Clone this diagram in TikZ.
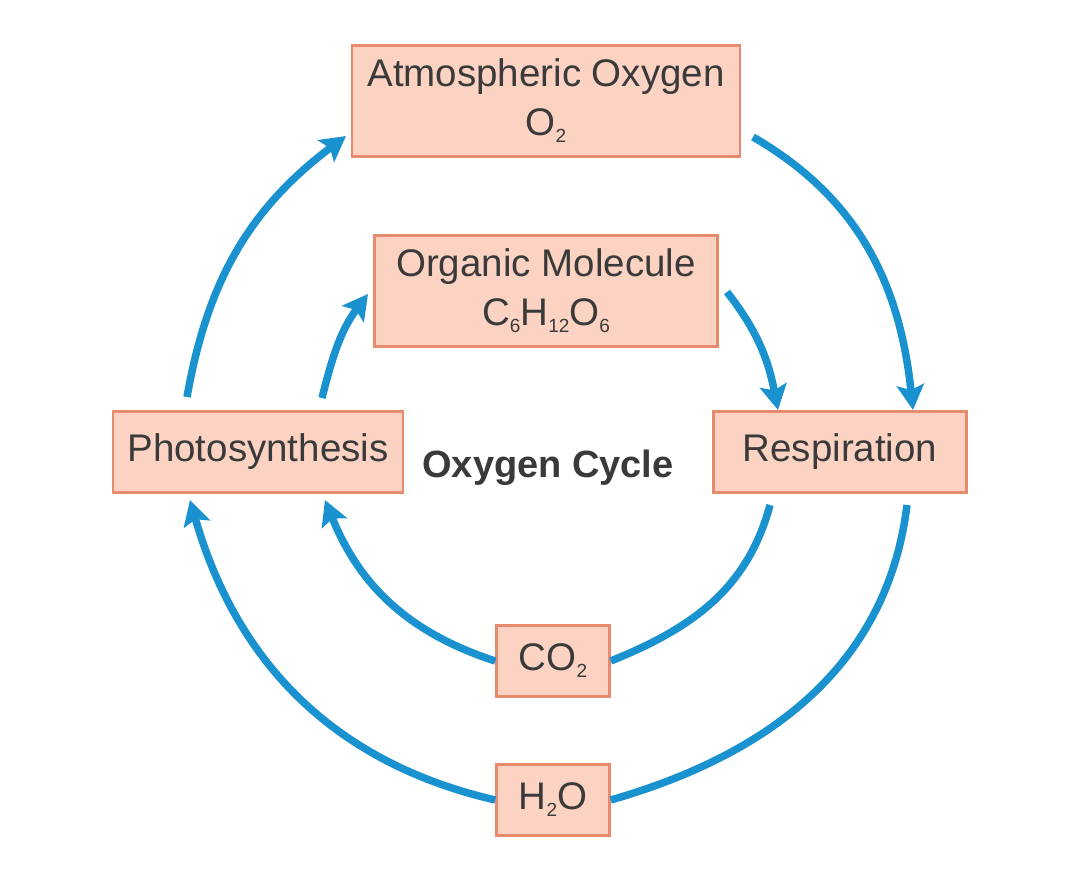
\documentclass[tikz,border=0pt]{standalone}
\usepackage{fontspec}
\setmainfont{Liberation Sans}
\usetikzlibrary{arrows.meta}
\definecolor{boxfill}{HTML}{FCD2C2}
\definecolor{boxline}{HTML}{E88A6E}
\definecolor{cyc}{HTML}{1A92D0}
\definecolor{txt}{HTML}{3A3A3A}
\newcommand\sbs[1]{\raisebox{-7pt}{\fontsize{19}{19}\selectfont #1}}
\begin{document}
\begin{tikzpicture}[x=1pt,y=1pt,
  box/.style={draw=boxline,fill=boxfill,line width=2.5pt,inner sep=0pt,
    align=center,text=txt,font=\fontsize{38.5}{49}\selectfont},
  flow/.style={draw=cyc,line width=7.5pt},
  tip/.style={flow,-{Stealth[width=27pt,length=25pt,inset=5pt]}}]
\useasboundingbox (0,0) rectangle (1080,-875);
\fill[white] (0,0) rectangle (1080,-875);
% nodes
\node[box,minimum width=388pt,minimum height=111pt] (atm) at (546,-101) {Atmospheric Oxygen\\O\sbs{2}};
\node[box,minimum width=343pt,minimum height=111pt] (org) at (546,-291) {Organic Molecule\\C\sbs{6}H\sbs{12}O\sbs{6}};
\node[box,minimum width=290pt,minimum height=81pt] (ph) at (258,-452) {Photosynthesis};
\node[box,minimum width=253pt,minimum height=81pt] (re) at (840,-452) {Respiration};
\node[box,minimum width=113pt,minimum height=71pt] (co) at (553,-661) {CO\sbs{2}};
\node[box,minimum width=113pt,minimum height=71pt] (wa) at (553,-800) {H\sbs{2}O};
\node[text=txt,font=\fontsize{38}{44}\selectfont\bfseries] (title) at (548,-468) {Oxygen Cycle};
% connector ends
\coordinate (phA) at (187,-397);
\coordinate (atmA) at (346,-136);
\coordinate (phB) at (322,-398);
\coordinate (orgB) at (368,-294);
\coordinate (atmC) at (753,-137);
\coordinate (reC) at (913,-410);
\coordinate (orgD) at (727,-292);
\coordinate (reD) at (778,-410);
\coordinate (reE) at (770,-505);
\coordinate (phE) at (325,-500);
\coordinate (reF) at (907,-505);
\coordinate (phF) at (190,-500);
% connectors
\draw[tip] (phA) to[out=80,in=217] (atmA);
\draw[tip] (phB) to[out=76,in=233] (orgB);
\draw[tip] (atmC) to[out=-30,in=96] (reC);
\draw[tip] (orgD) to[out=-52,in=101] (reD);
\draw[flow] (reE) to[out=-105,in=22] (co.east);
\draw[tip] (co.west) to[out=162,in=-68] (phE);
\draw[flow] (reF) to[out=-97,in=16] (wa.east);
\draw[tip] (wa.west) to[out=167,in=-74] (phF);
\end{tikzpicture}
\end{document}
